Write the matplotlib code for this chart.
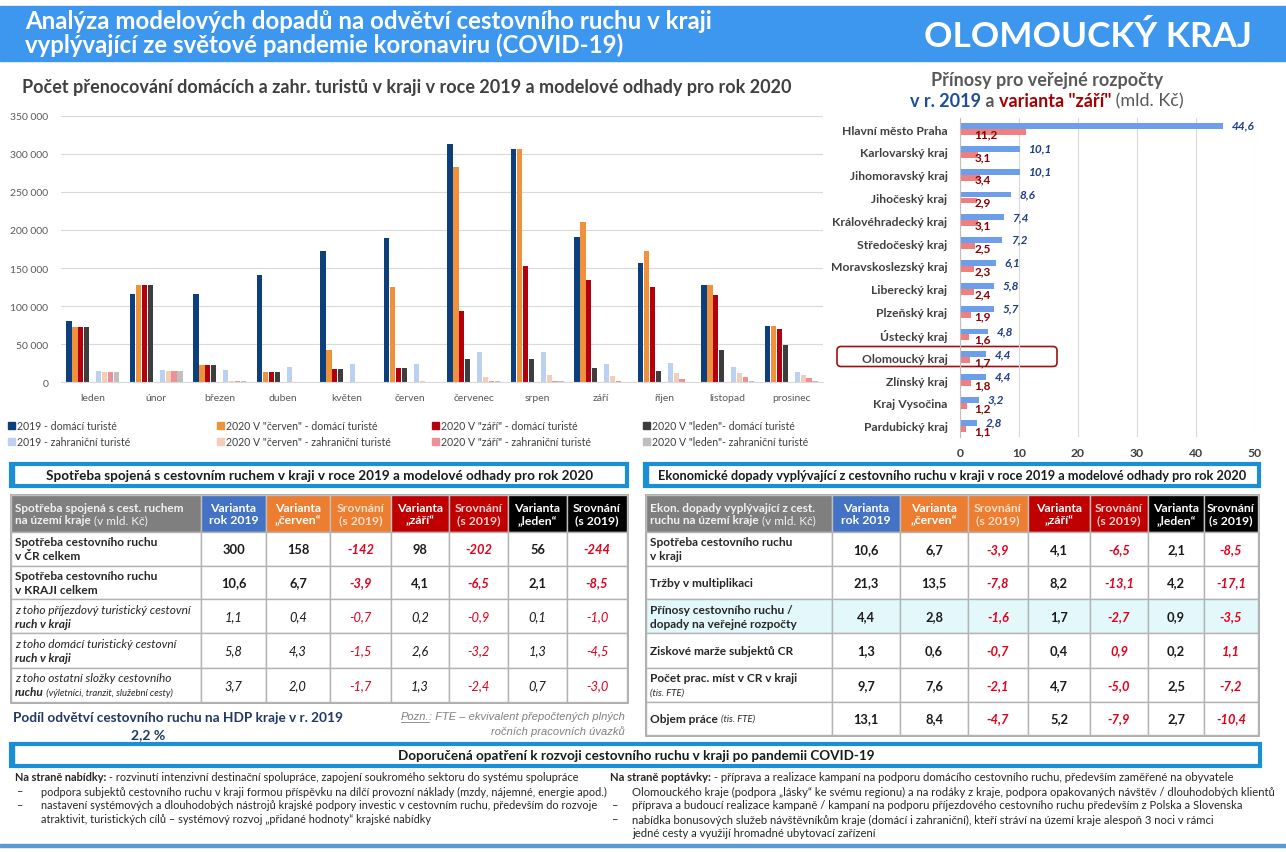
import numpy as np
import matplotlib
matplotlib.use('Agg')
import matplotlib.pyplot as plt
from matplotlib.patches import Rectangle, FancyBboxPatch

plt.rcParams['font.family'] = ['Lato', 'DejaVu Sans']

# --- data: nocovani ---
months = ['leden', 'únor', 'březen', 'duben', 'květen', 'červen', 'červenec',
          'srpen', 'září', 'říjen', 'listopad', 'prosinec']
dom_2019 = [81000, 116500, 116500, 141000, 173000, 189000, 313000, 306000, 191000, 157000, 128000, 74000]
dom_cerven = [73000, 128000, 22700, 13600, 42400, 125600, 282000, 306000, 210000, 173000, 128000, 74000]
dom_zari = [73000, 128000, 22700, 13600, 17500, 18400, 93600, 152700, 134000, 125000, 115000, 70400]
dom_leden = [73000, 128000, 22700, 13600, 17500, 18400, 30600, 30200, 18400, 15300, 42400, 49400]
zahr_2019 = [14400, 15700, 16600, 20000, 23600, 24000, 39400, 39800, 24500, 25800, 19700, 14000]
zahr_cerven = [13000, 14400, 2200, 300, 500, 2000, 7400, 9600, 8300, 12700, 11800, 10000]
zahr_zari = [13000, 14400, 1700, 300, 400, 1000, 2200, 2000, 1700, 4400, 6600, 5700]
zahr_leden = [13000, 14400, 2000, 300, 400, 1000, 2000, 1300, 900, 900, 1300, 2200]
series_labels = ['2019 - domácí turisté', '2020 V "červen" - domácí turisté',
                 '2020 V "září" - domácí turisté', '2020 V "leden"- domácí turisté',
                 '2019 - zahraniční turisté', '2020 V "červen" - zahraniční turisté',
                 '2020 V "září" - zahraniční turisté', '2020 V "leden"- zahraniční turisté']

# --- data: prinosy pro rozpocty ---
regions = ['Hlavní město Praha', 'Karlovarský kraj', 'Jihomoravský kraj', 'Jihočeský kraj',
           'Královéhradecký kraj', 'Středočeský kraj', 'Moravskoslezský kraj', 'Liberecký kraj',
           'Plzeňský kraj', 'Ústecký kraj', 'Olomoucký kraj', 'Zlínský kraj', 'Kraj Vysočina',
           'Pardubický kraj']
rozp_2019 = [44.6, 10.1, 10.1, 8.6, 7.4, 7.2, 6.1, 5.8, 5.7, 4.8, 4.4, 4.4, 3.2, 2.8]
rozp_zari = [11.2, 3.1, 3.4, 2.9, 3.1, 2.5, 2.3, 2.4, 1.9, 1.6, 1.7, 1.8, 1.2, 1.1]

# --- data: tabulky ---
head_cols = ['Varianta\nrok 2019', 'Varianta\n„červen“', 'Srovnání\n(s 2019)', 'Varianta\n„září“',
             'Srovnání\n(s 2019)', 'Varianta\n„leden“', 'Srovnání\n(s 2019)']
spotreba_head = [[('Spotřeba spojená s cest. ruchem', 'b')], [('na území kraje ', 'b'), ('(v mld. Kč)', 'n')]]
spotreba_labels = [
    [[('Spotřeba cestovního ruchu', 'b')], [('v ČR celkem', 'b')]],
    [[('Spotřeba cestovního ruchu', 'b')], [('v KRAJI celkem', 'b')]],
    [[('z toho příjezdový turistický cestovní', 'i')], [('ruch v kraji', 'bi')]],
    [[('z toho domácí turistický cestovní', 'i')], [('ruch v kraji', 'bi')]],
    [[('z toho ostatní složky cestovního', 'i')], [('ruchu', 'bi'), (' (výletníci, tranzit, služební cesty)', 'si')]],
]
spotreba_vals = [
    [300, 158, -142, 98, -202, 56, -244],
    [10.6, 6.7, -3.9, 4.1, -6.5, 2.1, -8.5],
    [1.1, 0.4, -0.7, 0.2, -0.9, 0.1, -1.0],
    [5.8, 4.3, -1.5, 2.6, -3.2, 1.3, -4.5],
    [3.7, 2.0, -1.7, 1.3, -2.4, 0.7, -3.0],
]
ekon_head = [[('Ekon. dopady vyplývající z cest.', 'b')], [('ruchu na území kraje ', 'b'), ('(v mld. Kč)', 'n')]]
ekon_labels = [
    [[('Spotřeba cestovního ruchu', 'b')], [('v kraji', 'b')]],
    [[('Tržby v multiplikaci', 'b')]],
    [[('Přínosy cestovního ruchu /', 'b')], [('dopady na veřejné rozpočty', 'b')]],
    [[('Ziskové marže subjektů CR', 'b')]],
    [[('Počet prac. míst v CR v kraji', 'b')], [('(tis. FTE)', 'si')]],
    [[('Objem práce ', 'b'), ('(tis. FTE)', 'si')]],
]
ekon_vals = [
    [10.6, 6.7, -3.9, 4.1, -6.5, 2.1, -8.5],
    [21.3, 13.5, -7.8, 8.2, -13.1, 4.2, -17.1],
    [4.4, 2.8, -1.6, 1.7, -2.7, 0.9, -3.5],
    [1.3, 0.6, -0.7, 0.4, 0.9, 0.2, 1.1],
    [9.7, 7.6, -2.1, 4.7, -5.0, 2.5, -7.2],
    [13.1, 8.4, -4.7, 5.2, -7.9, 2.7, -10.4],
]

nabidka = [
    [('Na straně nabídky:', 'b'), (' - rozvinutí intenzivní destinační spolupráce, zapojení soukromého sektoru do systému spolupráce', 'n')],
    [('–', 'n'), ('podpora subjektů cestovního ruchu v kraji formou příspěvku na dílčí provozní náklady (mzdy, nájemné, energie apod.)', 'n')],
    [('–', 'n'), ('nastavení systémových a dlouhodobých nástrojů krajské podpory investic v cestovním ruchu, především do rozvoje', 'n')],
    [('', 'n'), ('atraktivit, turistických cílů – systémový rozvoj „přidané hodnoty“ krajské nabídky', 'n')],
]
poptavka = [
    [('Na straně poptávky:', 'b'), (' - příprava a realizace kampaní na podporu domácího cestovního ruchu, především zaměřené na obyvatele', 'n')],
    [('', 'n'), ('Olomouckého kraje (podpora „lásky“ ke svému regionu) a na rodáky z kraje, podpora opakovaných návštěv / dlouhodobých klientů', 'n')],
    [('–', 'n'), ('příprava a budoucí realizace kampaně / kampaní na podporu příjezdového cestovního ruchu především z Polska a Slovenska', 'n')],
    [('–', 'n'), ('nabídka bonusových služeb návštěvníkům kraje (domácí i zahraniční), kteří stráví na území kraje alespoň 3 noci v rámci', 'n')],
    [('', 'n'), ('jedné cesty a využijí hromadné ubytovací zařízení', 'n')],
]

W, H = 1286, 853
fig = plt.figure(figsize=(W / 100, H / 100), dpi=100)
bg = fig.add_axes([0, 0, 1, 1], zorder=0)
bg.set_xlim(0, W)
bg.set_ylim(H, 0)
bg.axis('off')
renderer = fig.canvas.get_renderer()

STY = {'b': dict(fontweight='bold'), 'n': dict(), 'i': dict(fontstyle='italic'),
       'bi': dict(fontweight='bold', fontstyle='italic'), 'si': dict(fontstyle='italic')}


def rich(x, y, parts, size, ha='left', color='#262626', small=0.8, colors=None, family=None):
    objs = []
    for k, (s, st) in enumerate(parts):
        kw = dict(STY[st])
        if family:
            kw['family'] = family
        fs = size * small if st == 'si' else size
        c = colors[k] if colors else color
        t = bg.text(0, y, s, fontsize=fs, ha='left', va='center', color=c, **kw)
        objs.append((t, t.get_window_extent(renderer).width))
    total = sum(w for _, w in objs)
    x0 = x - total / 2 if ha == 'center' else (x - total if ha == 'right' else x)
    spans = []
    for t, w in objs:
        t.set_x(x0)
        spans.append((x0, x0 + w))
        x0 += w
    return spans


def fmt(v):
    if isinstance(v, int):
        return str(v)
    return f'{v:.1f}'.replace('.', ',')


# --- hlavicka ---
bg.add_patch(Rectangle((0, 7), W, 55, color='#3d97ef'))
bg.text(25, 21, 'Analýza modelových dopadů na odvětví cestovního ruchu v kraji', color='white',
        fontsize=17.3, fontweight='bold', va='center')
bg.text(25, 45, 'vyplývající ze světové pandemie koronaviru (COVID-19)', color='white',
        fontsize=17.3, fontweight='bold', va='center')
bg.text(1252, 37, 'OLOMOUCKÝ KRAJ', color='white', fontsize=25.3, fontweight='bold', va='center', ha='right')

# --- graf nocovani ---
ax = fig.add_axes([61 / W, 1 - 383.3 / H, (823 - 61) / W, (383.3 - 116.7) / H], zorder=1)
ax.patch.set_alpha(0)
x = np.arange(len(months))
series = [dom_2019, dom_cerven, dom_zari, dom_leden, zahr_2019, zahr_cerven, zahr_zari, zahr_leden]
colors = ['#0d3f7c', '#f0913c', '#b2000f', '#3d3d3d', '#bcd0f0', '#f4cdb5', '#ef8f98', '#bfbfbf']
slots = [-4, -3, -2, -1, 1, 2, 3, 4]
for vals, col, s in zip(series, colors, slots):
    ax.bar(x + s * 0.0934, vals, width=0.082, color=col, zorder=2)
ax.set_xlim(-0.5, 11.5)
ax.set_ylim(0, 350000)
ax.set_yticks(range(0, 350001, 50000))
ax.set_yticklabels([f'{v:,}'.replace(',', ' ') for v in range(0, 350001, 50000)])
ax.set_xticks(x)
ax.set_xticklabels(months)
ax.tick_params(axis='both', length=0, labelsize=7.5, colors='#595959')
ax.tick_params(axis='y', pad=9)
ax.tick_params(axis='x', pad=8)
ax.yaxis.grid(True, color='#d9d9d9', lw=0.8)
ax.set_axisbelow(True)
for sp in ['top', 'right', 'left']:
    ax.spines[sp].set_visible(False)
ax.spines['bottom'].set_color('#d9d9d9')
bg.text(22, 87, 'Počet přenocování domácích a zahr. turistů v kraji v roce 2019 a modelové odhady pro rok 2020',
        fontsize=13, fontweight='bold', color='#404040', va='center')

# legenda
leg_x = [8, 217, 432, 643]
for k, (lab, col) in enumerate(zip(series_labels, colors)):
    lx = leg_x[k % 4]
    ly = 426 if k < 4 else 442
    bg.add_patch(Rectangle((lx, ly - 3.5), 7, 7, color=col))
    bg.text(lx + 9, ly, lab, fontsize=7.6, color='#404040', va='center')

# --- graf prinosy ---
ax2 = fig.add_axes([960 / W, 1 - 438.2 / H, 295 / W, (438.2 - 118.6) / H], zorder=1)
ax2.patch.set_alpha(0)
y = np.arange(len(regions))
ax2.barh(y - 0.13, rozp_2019, height=0.26, color='#6d9eeb', zorder=2)
ax2.barh(y + 0.13, rozp_zari, height=0.26, color='#f08080', zorder=2)
for i, (a, b) in enumerate(zip(rozp_2019, rozp_zari)):
    ax2.text(a + 1.5, i - 0.17, fmt(a), fontsize=8.5, fontweight='bold', fontstyle='italic',
             color='#1f3c88', va='center', ha='left', zorder=3)
    ax2.text(2.4, i + 0.2, fmt(b), fontsize=8.5, fontweight='bold', color='#8b0000',
             va='center', ha='left', zorder=3)
ax2.set_ylim(len(regions) - 0.5, -0.5)
ax2.set_xlim(0, 50)
ax2.set_xticks(range(0, 51, 10))
ax2.set_yticks(y)
ax2.set_yticklabels(regions, fontweight='bold')
ax2.tick_params(axis='both', length=0, labelsize=8.7, colors='#404040')
ax2.tick_params(axis='y', pad=9)
ax2.tick_params(axis='x', pad=7)
for lbl in ax2.get_xticklabels():
    lbl.set_fontweight('bold')
ax2.xaxis.grid(True, color='#d9d9d9', lw=0.8)
ax2.set_axisbelow(True)
for sp in ['top', 'right', 'bottom']:
    ax2.spines[sp].set_visible(False)
ax2.spines['left'].set_color('#bfbfbf')
bg.text(1047, 80, 'Přínosy pro veřejné rozpočty', fontsize=13, fontweight='bold', color='#595959',
        ha='center', va='center')
rich(1047, 101, [('v r. 2019', 'b'), (' a ', 'b'), ('varianta "září"', 'b'), (' (mld. Kč)', 'n')],
     13, ha='center', colors=['#1f4e99', '#595959', '#a50000', '#595959'])
bg.add_patch(FancyBboxPatch((837, 347.5), 220, 20, boxstyle='round,pad=0,rounding_size=4',
                            ec='#a01010', fc='none', lw=1.2, zorder=3))


# --- tabulky ---
head_bg = ['#4472c4', '#ed7d31', '#ed7d31', '#c00000', '#c00000', '#000000', '#000000']
head_fg = ['white', 'white', '#fde0c8', 'white', '#ffd0d0', 'white', 'white']


def section_box(x0, x1, y0, y1, text, cx, size=9.7):
    bg.add_patch(Rectangle((x0, y0), x1 - x0, y1 - y0, fc='white', ec='#1a8fd6', lw=3))
    bg.add_patch(Rectangle((x0, y0), 3, y1 - y0, color='#1a8fd6'))
    bg.text(cx, (y0 + y1) / 2, text, fontsize=size, fontweight='bold', color='#1a1a1a',
            ha='center', va='center')


def draw_table(xe, ye, head, labels, vals, italic_rows=(), shade=None):
    bg.add_patch(Rectangle((xe[0], ye[0]), xe[-1] - xe[0], ye[-1] - ye[0], fc='white',
                           ec='#a6a6a6', lw=2))
    bg.add_patch(Rectangle((xe[0], ye[0]), xe[1] - xe[0], ye[1] - ye[0], fc='#7f7f7f',
                           ec='#bfbfbf', lw=1))
    for k, line in enumerate(head):
        rich(xe[0] + 4, (ye[0] + ye[1]) / 2 + (k - 0.5) * 13, line, 8.5, color='#f2f2f2')
    for j, txt in enumerate(head_cols):
        bg.add_patch(Rectangle((xe[j + 1], ye[0]), xe[j + 2] - xe[j + 1], ye[1] - ye[0],
                               fc=head_bg[j], ec='#bfbfbf', lw=1))
        bg.text((xe[j + 1] + xe[j + 2]) / 2, (ye[0] + ye[1]) / 2, txt, fontsize=8.8,
                fontweight='bold', color=head_fg[j], ha='center', va='center', linespacing=1.15)
    for i, (lab, row) in enumerate(zip(labels, vals)):
        y0, y1 = ye[i + 1], ye[i + 2]
        fc = '#e3f8fb' if i == shade else 'white'
        for j in range(8):
            bg.add_patch(Rectangle((xe[j], y0), xe[j + 1] - xe[j], y1 - y0, fc=fc,
                                   ec='#b3b3b3', lw=1))
        n = len(lab)
        for k, line in enumerate(lab):
            rich(xe[0] + 4, (y0 + y1) / 2 + (k - (n - 1) / 2) * 14, line, 8.6)
        it = i in italic_rows
        for j, v in enumerate(row):
            srov = j in (2, 4, 6)
            bg.text((xe[j + 1] + xe[j + 2]) / 2, (y0 + y1) / 2, fmt(v), ha='center', va='center',
                    fontsize=9.3, color='#e3001b' if srov else '#1a1a1a',
                    fontweight='normal' if it else 'bold',
                    fontstyle='italic' if (it or srov) else 'normal')


section_box(11, 627, 465, 487, 'Spotřeba spojená s cestovním ruchem v kraji v roce 2019 a modelové odhady pro rok 2020', 320)
section_box(645, 1259, 465, 487, 'Ekonomické dopady vyplývající z cestovního ruchu v kraji v roce 2019 a modelové odhady pro rok 2020',
            952, size=9.2)
draw_table([11, 201, 266, 330, 391, 449, 508, 567, 627], [496, 533, 567, 600, 634, 669, 703],
           spotreba_head, spotreba_labels, spotreba_vals, italic_rows=(2, 3, 4))
draw_table([646, 832, 900, 968, 1028, 1090, 1148, 1204, 1258], [496, 533, 567, 600, 634, 669, 703, 736],
           ekon_head, ekon_labels, ekon_vals, shade=2)

bg.text(13, 718, 'Podíl odvětví cestovního ruchu na HDP kraje v r. 2019', fontsize=9.8,
        fontweight='bold', color='#1f3864', va='center')
bg.text(148, 735, '2,2 %', fontsize=10, fontweight='bold', color='#1f3864', va='center', ha='center')
sp = rich(625, 717, [('Pozn.', 'i'), (': FTE – ekvivalent přepočtených plných', 'i')], 8,
          ha='right', color='#808080', family='Liberation Sans')
bg.plot([sp[0][0], sp[0][1]], [723, 723], color='#808080', lw=0.6)
rich(625, 732, [('ročních pracovních úvazků', 'i')], 8, ha='right', color='#808080',
     family='Liberation Sans')

# --- doporucena opatreni ---
section_box(11, 1260, 745, 767, 'Doporučená opatření k rozvoji cestovního ruchu v kraji po pandemii COVID-19', 636)
for k, line in enumerate(nabidka):
    yy = 778 + k * 14
    if k == 0:
        rich(15, yy, line, 7.9)
    else:
        rich(16, yy, line[:1], 7.9)
        rich(41, yy, line[1:], 7.9)
for k, line in enumerate(poptavka):
    yy = 778 + k * 14
    if k == 0:
        rich(610, yy, line, 8.1)
    else:
        rich(612, yy, line[:1], 8.1)
        rich(632, yy, line[1:], 8.1)
bg.add_patch(Rectangle((0, 845), W, 3, color='#5b9bd5'))

fig.savefig('out.png', dpi=100)
